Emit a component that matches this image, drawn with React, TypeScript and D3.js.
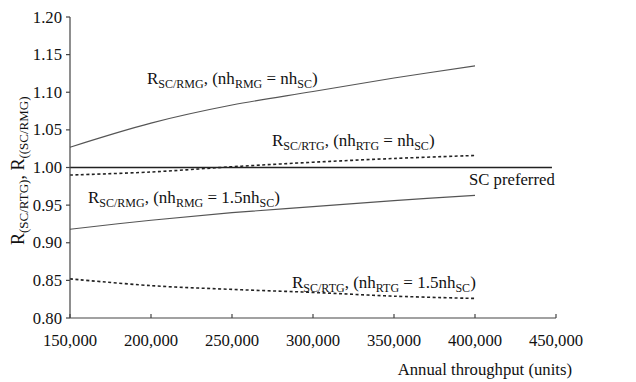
import React from "react";
import * as d3 from "d3";

const throughput = [150000, 200000, 250000, 300000, 350000, 400000];
const rmgEqual = [1.027, 1.059, 1.083, 1.101, 1.119, 1.135];
const rtgEqual = [0.99, 0.994, 1.001, 1.007, 1.012, 1.016];
const rmg15 = [0.918, 0.93, 0.94, 0.948, 0.956, 0.963];
const rtg15 = [0.852, 0.843, 0.838, 0.834, 0.829, 0.826];
const xTicks = [150000, 200000, 250000, 300000, 350000, 400000, 450000];
const yTicks = [0.8, 0.85, 0.9, 0.95, 1.0, 1.05, 1.1, 1.15, 1.2];
const refValue = 1.0;
const refRange = [150000, 447500];

type Part = [string, boolean];
const labelRmgEq: Part[] = [["R", false], ["SC/RMG", true], [", (nh", false], ["RMG", true], [" = nh", false], ["SC", true], [")", false]];
const labelRtgEq: Part[] = [["R", false], ["SC/RTG", true], [", (nh", false], ["RTG", true], [" = nh", false], ["SC", true], [")", false]];
const labelRmg15: Part[] = [["R", false], ["SC/RMG", true], [", (nh", false], ["RMG", true], [" = 1.5nh", false], ["SC", true], [")", false]];
const labelRtg15: Part[] = [["R", false], ["SC/RTG", true], [", (nh", false], ["RTG", true], [" = 1.5nh", false], ["SC", true], [")", false]];
const yLabel: Part[] = [["R", false], ["(SC/RTG)", true], [", R", false], ["((SC/RMG)", true]];

const FONT = "Liberation Serif, Tinos, Times New Roman, DejaVu Serif, serif";

function Label({ parts, x, y, size = 17, subSize = 12, shift = 3.5, transform }: { parts: Part[]; x: number; y: number; size?: number; subSize?: number; shift?: number; transform?: string }) {
  let prevSub = false;
  return (
    <text x={x} y={y} style={{ fontFamily: FONT }} fontSize={size} fill="#111" transform={transform}>
      {parts.map(([t, sub], i) => {
        let dy = 0;
        if (sub && !prevSub) dy = shift;
        else if (!sub && prevSub) dy = -shift;
        prevSub = sub;
        return (
          <tspan key={i} dy={dy} fontSize={sub ? subSize : size} style={{ whiteSpace: "pre" }}>
            {t}
          </tspan>
        );
      })}
    </text>
  );
}

export default function App() {
  const x = d3.scaleLinear().domain([150000, 450000]).range([70, 556]);
  const y = d3.scaleLinear().domain([0.8, 1.2]).range([318, 17]);
  const line = d3
    .line<number>()
    .x((_, i) => x(throughput[i]))
    .y((d) => y(d))
    .curve(d3.curveCatmullRom.alpha(0.5));
  const fmt = d3.format(",");

  return (
    <svg width={636} height={382} style={{ position: "absolute", left: 0, top: 0, background: "#fff", fontFamily: FONT }}>
      {/* reference line */}
      <line x1={x(refRange[0])} x2={x(refRange[1])} y1={y(refValue)} y2={y(refValue)} stroke="#222" strokeWidth={1.3} />
      {/* series */}
      <path d={line(rmgEqual) || ""} fill="none" stroke="#555" strokeWidth={1.1} />
      <path d={line(rmg15) || ""} fill="none" stroke="#555" strokeWidth={1.1} />
      <path d={line(rtgEqual) || ""} fill="none" stroke="#222" strokeWidth={1.6} strokeDasharray="3,2.5" />
      <path d={line(rtg15) || ""} fill="none" stroke="#222" strokeWidth={1.6} strokeDasharray="3,2.5" />

      {/* axes */}
      <line x1={70} x2={70} y1={y(1.2)} y2={y(0.8)} stroke="#444" strokeWidth={1.2} />
      <line x1={70} x2={x(450000)} y1={y(0.8)} y2={y(0.8)} stroke="#444" strokeWidth={1.2} />
      {yTicks.map((t) => (
        <g key={t}>
          <line x1={66} x2={70} y1={y(t)} y2={y(t)} stroke="#444" strokeWidth={1.2} />
          <text x={62} y={y(t) + 5.5} textAnchor="end" style={{ fontFamily: FONT }} fontSize={16.7} fill="#111">
            {t.toFixed(2)}
          </text>
        </g>
      ))}
      {xTicks.map((t) => (
        <g key={t}>
          <line x1={x(t)} x2={x(t)} y1={y(0.8)} y2={y(0.8) - 4} stroke="#444" strokeWidth={1.2} />
          <text x={x(t)} y={346} textAnchor="middle" style={{ fontFamily: FONT }} fontSize={16.7} fill="#111">
            {fmt(t)}
          </text>
        </g>
      ))}
      <text x={572} y={375} textAnchor="end" style={{ fontFamily: FONT }} fontSize={16.7} fill="#111">
        Annual throughput (units)
      </text>
      <Label parts={yLabel} x={0} y={0} size={18} subSize={13} shift={4} transform="translate(24,245) rotate(-90)" />

      {/* series labels */}
      <Label parts={labelRmgEq} x={147} y={84} />
      <Label parts={labelRtgEq} x={272} y={146} />
      <Label parts={labelRmg15} x={88} y={203} />
      <Label parts={labelRtg15} x={292} y={288} />
      <text x={469} y={185} style={{ fontFamily: FONT }} fontSize={16.7} fill="#111">
        SC preferred
      </text>
    </svg>
  );
}
